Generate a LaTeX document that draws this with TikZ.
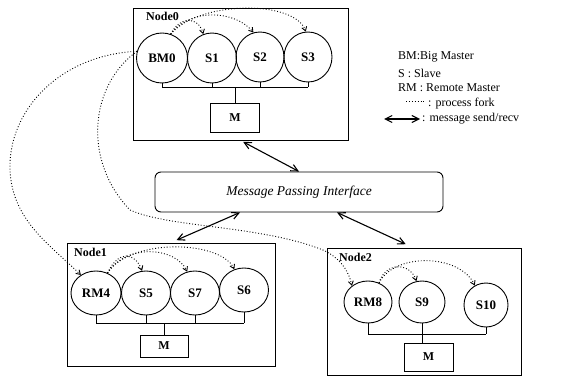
\documentclass[tikz,border=0pt]{standalone}
\usepackage{fontspec}
\setmainfont{Liberation Serif}
\usetikzlibrary{shapes.geometric,arrows.meta}
\begin{document}
\begin{tikzpicture}[x=1pt,y=-1pt,
  proc/.style={draw,line width=0.9pt,ellipse,inner sep=0pt,font=\fontsize{13}{13}\selectfont\bfseries},
  mem/.style={draw,line width=0.9pt,rectangle,inner sep=0pt,font=\fontsize{12}{12}\selectfont\bfseries},
  frame/.style={draw,line width=0.9pt,rectangle,inner sep=0pt},
  lbl/.style={font=\fontsize{12}{12}\selectfont\bfseries,inner sep=0pt,anchor=west},
  leg/.style={font=\fontsize{12}{12}\selectfont,inner sep=0pt,anchor=west},
  bus/.style={line width=0.9pt},
  fork/.style={dotted,line width=0.9pt,-{Straight Barb[length=4pt,width=5pt]}},
  msg/.style={line width=1.1pt,{Straight Barb[length=7pt,width=7pt]}-{Straight Barb[length=7pt,width=7pt]}}
]
\useasboundingbox (0,0) rectangle (562,377);

% ---------- Node0 ----------
\node[frame,minimum width=215,minimum height=132] (n0) at (240.5,74) {};
\node[lbl] (l0) at (146,16) {Node0};
\node[proc,minimum width=51,minimum height=50] (e0) at (162,58) {BM0};
\node[proc,minimum width=49,minimum height=50] (e1) at (212,58) {S1};
\node[proc,minimum width=48,minimum height=50] (e2) at (260,57) {S2};
\node[proc,minimum width=48,minimum height=50] (e3) at (308,57) {S3};
\node[mem,minimum width=49,minimum height=29] (m0) at (235,118) {M};
\coordinate (b0) at (235,87);
\foreach \e in {e0,e1,e2,e3} \draw[bus] (\e.south) -- (\e.south |- b0);
\draw[bus] (e0.south |- b0) -- (e3.south |- b0);
\draw[bus] (m0.north) -- (m0.north |- b0);
\draw[fork] (e0.70) .. controls (180,16) and (198,16) .. (e1.110);
\draw[fork] (e0.70) .. controls (190,8) and (235,10) .. (e2.105);
\draw[fork] (e0.70) .. controls (200,0) and (295,0) .. (e3.95);

% ---------- MPI ----------
\node[draw,line width=0.9pt,rounded corners=6pt,minimum width=288,minimum height=40,inner sep=0pt,
  font=\fontsize{13.5}{13.5}\selectfont\itshape] (mpi) at (299,192) {Message Passing Interface};

% ---------- Node1 ----------
\node[frame,minimum width=208,minimum height=123] (n1) at (171,304.5) {};
\node[lbl] (l1) at (74,252) {Node1};
\node[proc,minimum width=50,minimum height=44] (r4) at (96,293) {RM4};
\node[proc,minimum width=49,minimum height=44] (s5) at (146,293) {S5};
\node[proc,minimum width=49,minimum height=44] (s7) at (195,293) {S7};
\node[proc,minimum width=49,minimum height=44] (s6) at (244,290) {S6};
\node[mem,minimum width=48,minimum height=22] (m1) at (164,346) {M};
\coordinate (b1) at (164,323);
\foreach \e in {r4,s5,s7,s6} \draw[bus] (\e.south) -- (\e.south |- b1);
\draw[bus] (r4.south |- b1) -- (s6.south |- b1);
\draw[bus] (m1.north) -- (m1.north |- b1);
\draw[fork] (r4.60) .. controls (118,250) and (135,252) .. (s5.100);
\draw[fork] (r4.60) .. controls (125,244) and (175,246) .. (s7.110);
\draw[fork] (r4.60) .. controls (130,238) and (220,240) .. (s6.115);

% ---------- Node2 ----------
\node[frame,minimum width=194,minimum height=127] (n2) at (424,311.5) {};
\node[lbl] (l2) at (339,257) {Node2};
\node[proc,minimum width=48,minimum height=42] (r8) at (368,302) {RM8};
\node[proc,minimum width=46,minimum height=42] (s9) at (422,302) {S9};
\node[proc,minimum width=44,minimum height=44] (s10) at (486,305) {S10};
\node[mem,minimum width=49,minimum height=28] (m2) at (428.5,357) {M};
\coordinate (b2) at (423,334);
\draw[bus] (r8.south) -- (r8.south |- b2);
\draw[bus] (s10.south) -- (s10.south |- b2);
\draw[bus] (r8.south |- b2) -- (s10.south |- b2);
\draw[bus] (s9.south) -- (s9.south |- m2.north);
\draw[fork] (r8.60) .. controls (385,262) and (410,262) .. (s9.105);
\draw[fork] (r8.60) .. controls (395,252) and (460,254) .. (s10.120);

% ---------- message arrows ----------
\draw[msg,shorten <=3pt] (n0.south) -- (mpi.north);
\draw[msg,shorten >=6pt] ([xshift=-59pt]mpi.south) -- (n1.north);
\draw[msg,shorten >=8pt] ([xshift=38pt]mpi.south) -- ([xshift=-11pt]n2.north);

% ---------- long fork curves ----------
\draw[fork] (e0.165) .. controls (60,55) and (8,110) .. (10,170)
  .. controls (12,220) and (50,245) .. (r4.130);
\draw[fork] (e0.165) .. controls (90,85) and (82,160) .. (130,210)
  .. controls (170,228) and (260,225) .. (323,250)
  .. controls (338,257) and (348,268) .. (r8.135);

% ---------- legend ----------
\node[leg] (t1) at (398,57) {BM:Big Master};
\node[leg] (t2) at (398,73) {S : Slave};
\node[leg] (t3) at (398,88) {RM : Remote Master};
\coordinate (d1) at (406,101);
\coordinate (d2) at (424,101);
\draw[dotted,line width=0.9pt] (d1) -- (d2);
\node[leg] (t4) at (428,104) {: process fork};
\coordinate (a1) at (384,119);
\coordinate (a2) at (420,119);
\draw[msg] (a1) -- (a2);
\node[leg] (t5) at (422,119) {: message send/recv};
\end{tikzpicture}
\end{document}
